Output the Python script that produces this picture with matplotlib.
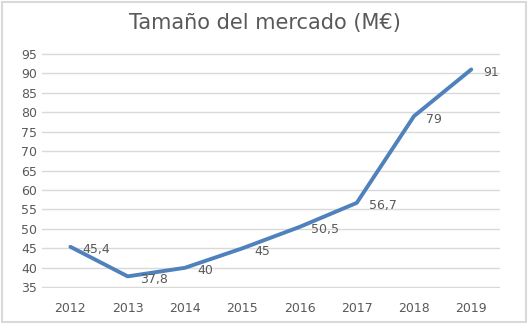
import matplotlib.pyplot as plt
from matplotlib.patches import Rectangle

# datos
years = ['2012', '2013', '2014', '2015', '2016', '2017', '2018', '2019']
market = [45.4, 37.8, 40, 45, 50.5, 56.7, 79, 91]
labels = ['45,4', '37,8', '40', '45', '50,5', '56,7', '79', '91']

gray = '#595959'
blue = '#4F81BD'

fig = plt.figure(figsize=(5.29, 3.24), dpi=100)
ax = fig.add_axes([0.079, 0.111, 0.866, 0.725])

x = range(len(years))
ax.plot(x, market, color=blue, linewidth=2.8, solid_capstyle='round', zorder=3)

# etiquetas de datos a la derecha
for i, (v, lab) in enumerate(zip(market, labels)):
    ax.annotate(lab, (i, v), xytext=(12, -3), textcoords='offset pixels',
                ha='left', va='center', fontsize=9, color=gray)

ax.set_xlim(-0.5, len(years) - 0.5)
ax.set_ylim(34.8, 95.2)
ax.set_yticks(range(35, 96, 5))
ax.set_xticks(list(x))
ax.set_xticklabels(years)
ax.grid(axis='y', color='#D9D9D9', linewidth=1)
ax.set_axisbelow(True)
for s in ax.spines.values():
    s.set_visible(False)
ax.tick_params(length=0, labelsize=9, labelcolor=gray)
ax.tick_params(axis='x', pad=10)

fig.text(0.5, 0.93, 'Tamaño del mercado (M€)', ha='center', va='center',
         fontsize=15, color=gray)

# borde del grafico
fig.patches.append(Rectangle((0.004, 0.006), 0.99, 0.988, transform=fig.transFigure,
                             fill=False, edgecolor='#D9D9D9', linewidth=1.5))

fig.savefig('out.png', dpi=100)
